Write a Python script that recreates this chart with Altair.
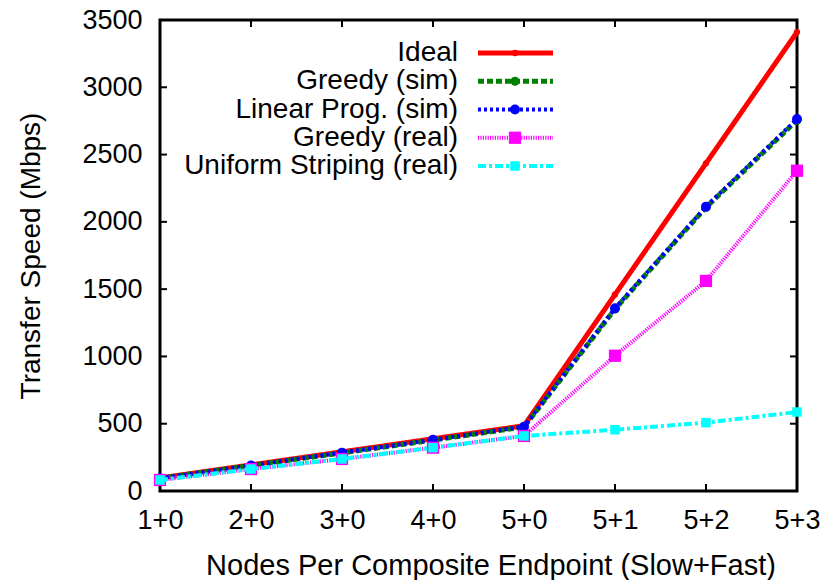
import altair as alt
import pandas as pd

# Node configurations (slow + fast) along the x axis
configs = ["1+0", "2+0", "3+0", "4+0", "5+0", "5+1", "5+2", "5+3"]

# Transfer speed in Mbps for each configuration
ideal = [97, 194, 291, 388, 485, 1460, 2435, 3410]
greedy_sim = [94, 189, 283, 378, 476, 1352, 2108, 2755]
linprog_sim = [95, 190, 285, 380, 478, 1358, 2113, 2764]
greedy_real = [82, 163, 238, 322, 409, 1005, 1561, 2380]
uniform_real = [82, 163, 238, 322, 409, 455, 508, 587]

series_names = ["Ideal", "Greedy (sim)", "Linear Prog. (sim)", "Greedy (real)", "Uniform Striping (real)"]
series_values = [ideal, greedy_sim, linprog_sim, greedy_real, uniform_real]

y_ticks = [0, 500, 1000, 1500, 2000, 2500, 3000, 3500]

# Line styles per series
colors = ["#ff0000", "#008000", "#0000ff", "#ff00ff", "#00ffff"]
dashes = [[1, 0], [6, 3], [3, 3], [1.2, 1.2], [8, 3, 3, 3]]
widths = [5, 5, 4, 4, 4]
shapes = ["circle", "circle", "circle", "square", "square"]
sizes = [40, 80, 100, 150, 90]

W, H = 637, 471
FONT = "Liberation Sans"

rows = []
for name, vals in zip(series_names, series_values):
    for c, v in zip(configs, vals):
        rows.append({"config": c, "speed": v, "series": name})
df = pd.DataFrame(rows)

x_enc = alt.X(
    "config:O",
    sort=configs,
    scale=alt.Scale(type="point", padding=0),
    axis=alt.Axis(
        title="Nodes Per Composite Endpoint (Slow+Fast)",
        labelAngle=0,
        domain=False,
        ticks=False,
        labelPadding=16,
        titlePadding=18,
        titleFontSize=29,
        titleX=W / 2 + 12,
    ),
)
y_enc = alt.Y(
    "speed:Q",
    scale=alt.Scale(domain=[0, 3500], nice=False, zero=True),
    axis=alt.Axis(
        title="Transfer Speed (Mbps)",
        values=y_ticks,
        format="d",
        domain=False,
        ticks=False,
        grid=False,
        labelPadding=18,
        titlePadding=36,
    ),
)

data_layers = []
for name, col, dash, w, shp, sz in zip(series_names, colors, dashes, widths, shapes, sizes):
    sub = df[df["series"] == name]
    base = alt.Chart(sub)
    line = base.mark_line(color=col, strokeDash=dash, strokeWidth=w, clip=False).encode(x=x_enc, y=y_enc)
    pts = base.mark_point(shape=shp, filled=True, color=col, size=sz, opacity=1, clip=False).encode(x=x_enc, y=y_enc)
    data_layers += [line, pts]

# Inward tick marks on all four sides of the frame
tick_x = pd.DataFrame({"config": configs})
tick_y = pd.DataFrame({"speed": y_ticks})
tick_style = dict(color="black", strokeWidth=2)
ticks = [
    alt.Chart(tick_x).mark_rule(**tick_style).encode(x=x_enc, y=alt.value(H), y2=alt.value(H - 7)),
    alt.Chart(tick_x).mark_rule(**tick_style).encode(x=x_enc, y=alt.value(0), y2=alt.value(7)),
    alt.Chart(tick_y).mark_rule(**tick_style).encode(y=y_enc, x=alt.value(0), x2=alt.value(7)),
    alt.Chart(tick_y).mark_rule(**tick_style).encode(y=y_enc, x=alt.value(W), x2=alt.value(W - 7)),
]

# Legend drawn inside the plot, labels on the left of the line samples
leg_df = pd.DataFrame({"series": series_names})
leg_y = alt.Y("series:N", sort=series_names, scale=alt.Scale(type="point", padding=0, range=[33, 146]), axis=None)
leg_layers = [
    alt.Chart(leg_df).mark_text(align="right", baseline="middle", fontSize=28, font=FONT, color="black").encode(
        x=alt.value(298), y=leg_y, text="series:N"
    )
]
for name, col, dash, w, shp, sz in zip(series_names, colors, dashes, widths, shapes, sizes):
    sub = leg_df[leg_df["series"] == name]
    leg_layers.append(
        alt.Chart(sub).mark_rule(color=col, strokeDash=dash, strokeWidth=w).encode(
            x=alt.value(318), x2=alt.value(393), y=leg_y
        )
    )
    leg_layers.append(
        alt.Chart(sub).mark_point(shape=shp, filled=True, color=col, size=sz, opacity=1).encode(
            x=alt.value(355), y=leg_y
        )
    )

chart = (
    alt.layer(alt.layer(*ticks, *data_layers), alt.layer(*leg_layers))
    .resolve_scale(y="independent")
    .properties(
        width=W,
        height=H,
        autosize=alt.AutoSizeParams(type="none"),
        padding={"left": 160, "top": 20, "right": 26, "bottom": 89},
        background="white",
    )
    .configure_view(stroke="black", strokeWidth=3)
    .configure_axis(
        labelFont=FONT,
        titleFont=FONT,
        labelFontSize=27,
        titleFontSize=28,
        labelColor="black",
        titleColor="black",
        titleFontWeight="normal",
    )
)

chart.save("out.html", embed_options={"renderer": "svg", "actions": False})
